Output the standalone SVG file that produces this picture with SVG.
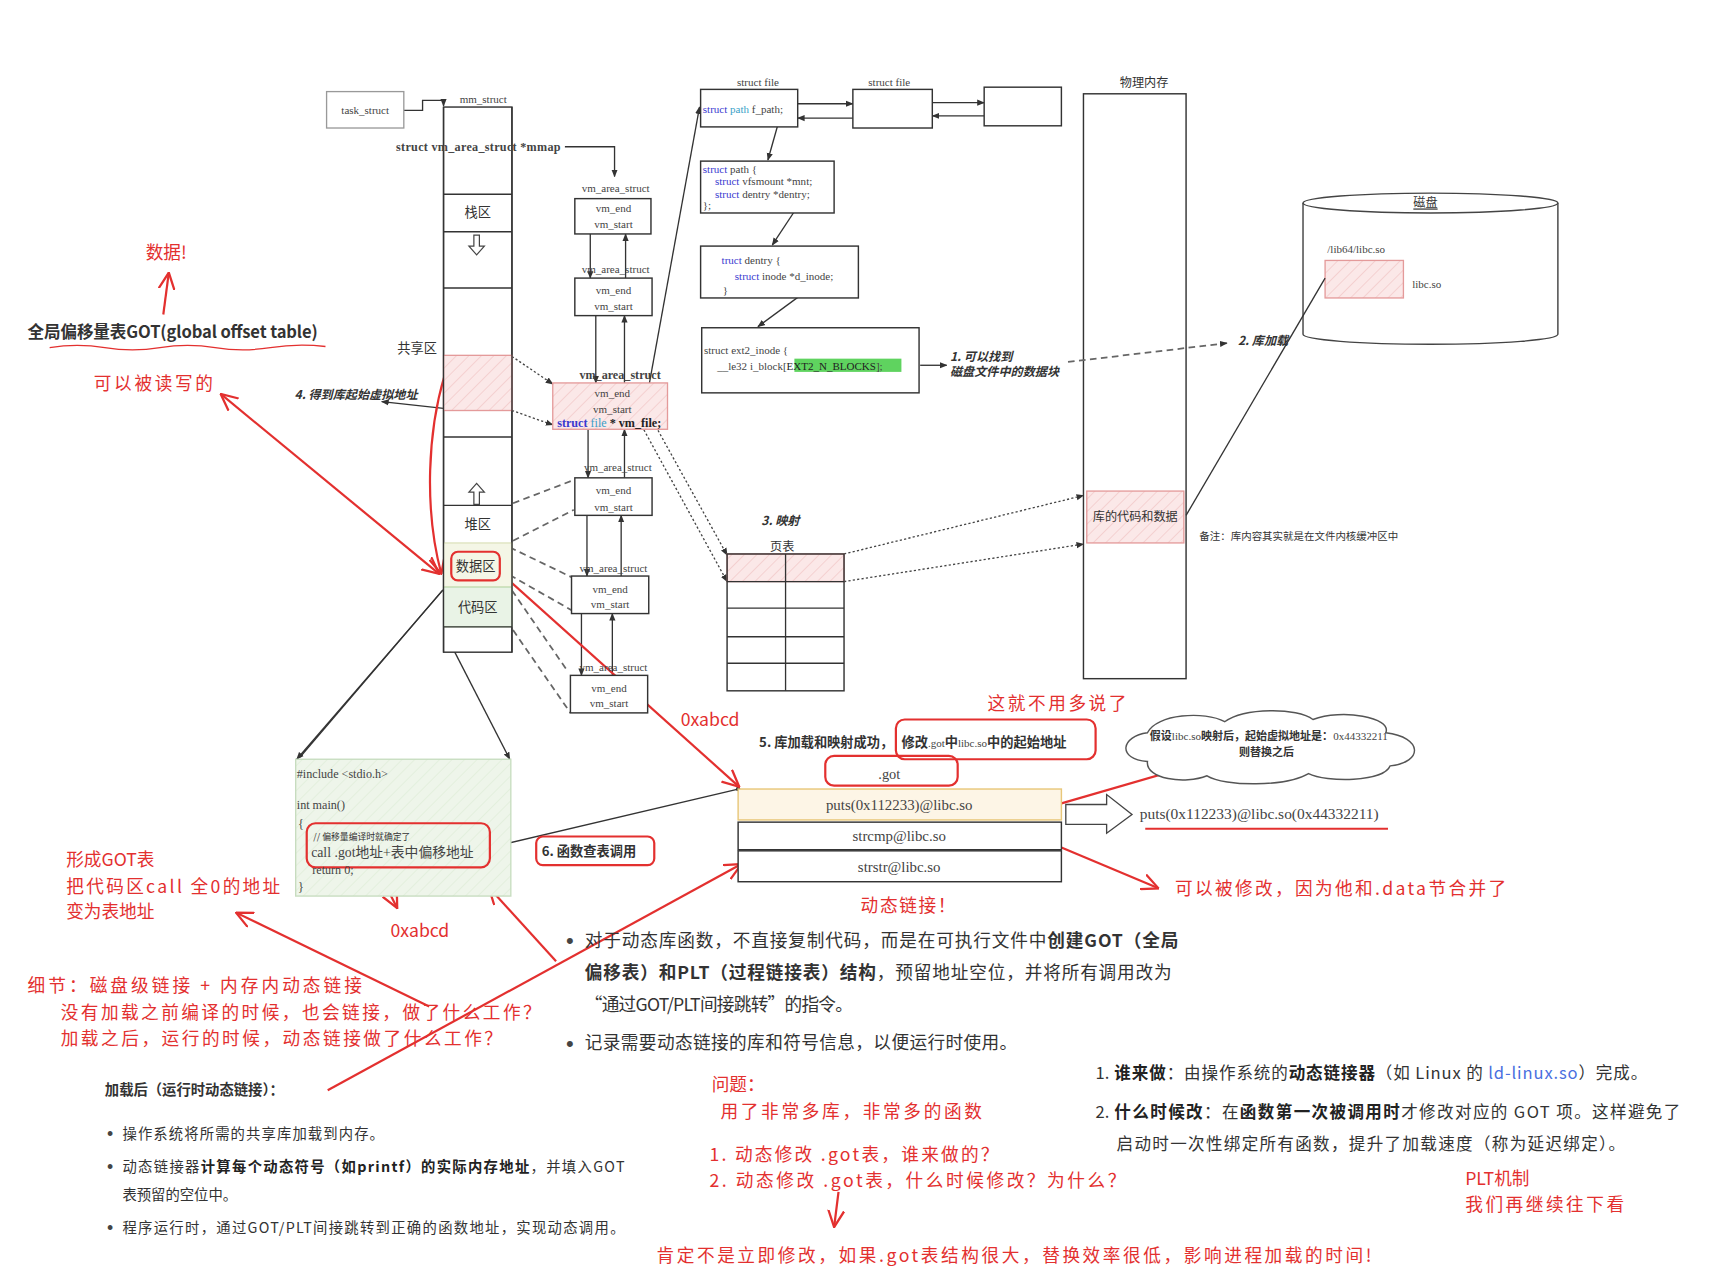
<svg xmlns="http://www.w3.org/2000/svg" width="1730" height="1279" viewBox="0 0 1730 1279">
<defs>
<style>
.bx{fill:#fff;stroke:#333;stroke-width:1.3}
.ln{stroke:#333;stroke-width:1.2;fill:none}
.dot{stroke:#444;stroke-width:1.2;fill:none;stroke-dasharray:2,2}
.dash{stroke:#666;stroke-width:1.6;fill:none;stroke-dasharray:6,4}
.rl{stroke:#e3302f;stroke-width:2;fill:none}
.rr{fill:none;stroke:#e3302f;stroke-width:2}
.pk{fill:url(#hatch);stroke:#e49a9a;stroke-width:1.2}
.sf{font-family:"Liberation Serif","Noto Sans CJK SC",serif;fill:#444}
.s10{font-size:10px}
.cj{font-family:"Noto Sans CJK SC","Noto Sans",sans-serif;fill:#333}
.bul{font-family:"Liberation Sans",sans-serif;fill:#444}
.hw{font-family:"Noto Sans CJK SC","Noto Sans",sans-serif;fill:#e3302f;font-size:16px}
.b{font-weight:bold}
.bi{font-weight:bold;font-style:italic}
.kw{fill:#3a3ad0}
.ty{fill:#3a9fc8}
.mid{text-anchor:middle}
</style>
<pattern id="hatch" width="8" height="8" patternUnits="userSpaceOnUse" patternTransform="rotate(45)">
<rect width="8" height="8" fill="#fbe8e8"/>
<line x1="0" y1="0" x2="0" y2="8" stroke="#f3cccc" stroke-width="1.5"/>
</pattern>
<pattern id="ghatch" width="8" height="8" patternUnits="userSpaceOnUse" patternTransform="rotate(45)">
<rect width="8" height="8" fill="#eef5ea"/>
<line x1="0" y1="0" x2="0" y2="8" stroke="#e2eedb" stroke-width="1.5"/>
</pattern>
<marker id="ab" viewBox="0 0 10 10" refX="9" refY="5" markerWidth="7" markerHeight="7" markerUnits="userSpaceOnUse" orient="auto-start-reverse"><path d="M0,1 L10,5 L0,9 z" fill="#333"/></marker>
<marker id="ar" viewBox="0 0 10 10" refX="9.5" refY="5" markerWidth="16" markerHeight="16" markerUnits="userSpaceOnUse" orient="auto-start-reverse"><path d="M0,0.5 L9.5,5 L0,9.5" fill="none" stroke="#e3302f" stroke-width="1.3"/></marker>
</defs>
<rect width="1730" height="1279" fill="#fff"/>
<g transform="scale(1.10332,1.10354)">

<!-- physical memory and disk drawn first so connectors pass over them -->
<g id="phys_mem">
<text class="cj mid" font-size="11" x="1037" y="79">物理内存</text>
<rect x="982" y="85" width="93" height="530" fill="none" stroke="#333" stroke-width="1.3"/>
<rect x="985" y="445" width="88" height="47" class="pk"/>
<text class="cj mid" font-size="11" x="1029" y="472">库的代码和数据</text>
<text class="cj" font-size="9.5" x="1087" y="489">备注：库内容其实就是在文件内核缓冲区中</text>
<text class="cj bi" font-size="11" x="1122" y="313" fill="#222">2. 库加载</text>
</g>
<g id="disk">
<path d="M1181,184 A115.5,9 0 0 1 1412,184 V303 A115.5,9 0 0 1 1181,303 Z" fill="none" stroke="#444" stroke-width="1.3"/>
<path d="M1181,184 A115.5,9 0 0 0 1412,184" fill="none" stroke="#444" stroke-width="1.3"/>
<text class="cj mid" font-size="11" x="1292" y="188" text-decoration="underline">磁盘</text>
<text class="sf s10" x="1203" y="229" fill="#666">/lib64/libc.so</text>
<rect x="1201" y="236" width="71" height="34" class="pk"/>
<text class="sf s10" x="1280" y="261" fill="#666">libc.so</text>
</g>

<!-- connectors -->
<g id="connectors">
<path class="ln" d="M366,100 H383 V91 H402 V96" marker-end="url(#ab)"/>
<path class="ln" d="M512,133 H557 V160" marker-end="url(#ab)"/>
<line class="ln" x1="535" y1="212" x2="535" y2="252" marker-end="url(#ab)"/>
<line class="ln" x1="567" y1="252" x2="567" y2="212" marker-end="url(#ab)"/>
<line class="ln" x1="540" y1="286" x2="540" y2="347" marker-end="url(#ab)"/>
<line class="ln" x1="566" y1="347" x2="566" y2="286" marker-end="url(#ab)"/>
<line class="ln" x1="533" y1="389" x2="533" y2="433" marker-end="url(#ab)"/>
<line class="ln" x1="566" y1="433" x2="566" y2="389" marker-end="url(#ab)"/>
<line class="ln" x1="532" y1="467" x2="532" y2="522" marker-end="url(#ab)"/>
<line class="ln" x1="563" y1="522" x2="563" y2="467" marker-end="url(#ab)"/>
<line class="ln" x1="527" y1="556" x2="527" y2="612" marker-end="url(#ab)"/>
<line class="ln" x1="555" y1="612" x2="555" y2="556" marker-end="url(#ab)"/>
<line class="dot" x1="464" y1="323" x2="501" y2="348" marker-end="url(#ab)"/>
<line class="dot" x1="464" y1="372" x2="501" y2="385" marker-end="url(#ab)"/>
<line class="dash" x1="465" y1="456" x2="520" y2="435"/>
<line class="dash" x1="465" y1="490" x2="520" y2="462"/>
<line class="dash" x1="462" y1="496" x2="518" y2="523"/>
<line class="dash" x1="462" y1="521" x2="518" y2="553"/>
<line class="dash" x1="464" y1="535" x2="515" y2="609"/>
<line class="dash" x1="465" y1="571" x2="517" y2="646"/>
<line class="ln" x1="583" y1="378" x2="634" y2="97" marker-end="url(#ab)"/>
<line class="ln" x1="723" y1="94" x2="773" y2="94" marker-end="url(#ab)"/>
<line class="ln" x1="773" y1="107" x2="723" y2="107" marker-end="url(#ab)"/>
<line class="ln" x1="845" y1="93" x2="892" y2="93" marker-end="url(#ab)"/>
<line class="ln" x1="892" y1="105" x2="845" y2="105" marker-end="url(#ab)"/>
<line class="ln" x1="707" y1="106" x2="696" y2="145" marker-end="url(#ab)"/>
<line class="ln" x1="727" y1="181" x2="700" y2="222" marker-end="url(#ab)"/>
<line class="ln" x1="740" y1="257" x2="687" y2="296" marker-end="url(#ab)"/>
<line class="ln" x1="834" y1="331" x2="858" y2="331" marker-end="url(#ab)"/>
<line class="dash" x1="968" y1="328" x2="1112" y2="311" marker-end="url(#ab)"/>
<line class="dot" x1="577" y1="355" x2="659" y2="503" marker-end="url(#ab)"/>
<line class="dot" x1="574" y1="372" x2="659" y2="527" marker-end="url(#ab)"/>
<line class="dot" x1="765" y1="502" x2="982" y2="449" marker-end="url(#ab)"/>
<line class="dot" x1="765" y1="527" x2="982" y2="493" marker-end="url(#ab)"/>
<line class="ln" x1="1075" y1="467" x2="1201" y2="252"/>
<line class="ln" x1="402" y1="370" x2="346" y2="364" marker-end="url(#ab)"/>
<line class="ln" x1="403" y1="533" x2="269" y2="688" marker-end="url(#ab)"/>
<line class="ln" x1="401" y1="535" x2="272" y2="686"/>
<line class="ln" x1="403" y1="573" x2="462" y2="688" marker-end="url(#ab)"/>
<line class="ln" x1="444" y1="768" x2="669" y2="715"/>
<circle cx="669" cy="715" r="2" fill="#333"/>
<!-- red annotations -->
<line class="rl" x1="398" y1="520" x2="200" y2="357" marker-start="url(#ar)" marker-end="url(#ar)"/>
<path class="rl" d="M403,340 C388,390 384,460 400,520" marker-end="url(#ar)"/>
<line class="rl" x1="148" y1="285" x2="153" y2="247" marker-end="url(#ar)"/>
<line class="rl" x1="458" y1="523" x2="670" y2="713" marker-end="url(#ar)"/>
<line class="rl" x1="336" y1="775" x2="360" y2="823" marker-end="url(#ar)"/>
<line class="rl" x1="389" y1="912" x2="214" y2="827" marker-end="url(#ar)"/>
<line class="rl" x1="297" y1="988" x2="672" y2="783" marker-end="url(#ar)"/>
<line class="rl" x1="504" y1="871" x2="443" y2="804" marker-end="url(#ar)"/>
<line class="rl" x1="955" y1="730" x2="1100" y2="688" marker-end="url(#ar)"/>
<line class="rl" x1="955" y1="765" x2="1050" y2="805" marker-end="url(#ar)"/>
<line class="rl" x1="760" y1="1080" x2="756" y2="1112" marker-end="url(#ar)"/>
<path d="M45,315 Q70,311 95,315 T145,315 T195,315 T245,315 T295,314" stroke="#e3302f" stroke-width="1.2" fill="none"/>
<line x1="1038" y1="751" x2="1258" y2="751" stroke="#e3302f" stroke-width="2"/>
</g>

<!-- task_struct -->
<g id="task_struct">
<rect x="296" y="83" width="70" height="33" fill="#fff" stroke="#999" stroke-width="1.2"/>
<text class="sf s10 mid" x="331" y="103">task_struct</text>
</g>

<!-- mm_struct column -->
<g id="mm_struct">
<text class="sf s10 mid" x="438" y="93">mm_struct</text>
<rect x="402" y="97" width="62" height="494" class="bx"/>
<rect x="402" y="322" width="62" height="50" class="pk"/>
<rect x="402" y="492" width="62" height="40" fill="#f4f6e6" stroke="#d8dfb4" stroke-width="1"/>
<rect x="402" y="532" width="62" height="36" fill="#e9f3e6" stroke="#b9d8ad" stroke-width="1"/>
<g class="ln">
<line x1="402" y1="176" x2="464" y2="176"/>
<line x1="402" y1="210" x2="464" y2="210"/>
<line x1="402" y1="261" x2="464" y2="261"/>
<line x1="402" y1="396" x2="464" y2="396"/>
<line x1="402" y1="458" x2="464" y2="458"/>
<line x1="402" y1="568" x2="464" y2="568"/>
<line x1="402" y1="97" x2="402" y2="591"/>
<line x1="464" y1="97" x2="464" y2="591"/>
</g>
<text class="sf b" font-size="11" x="359" y="137" textLength="149">struct vm_area_struct *mmap</text>
<text class="cj mid" font-size="12" x="433" y="197">栈区</text>
<path d="M429.5,213 H434.5 V223 H439 L432,231 L425,223 H429.5 Z" fill="#fff" stroke="#444" stroke-width="1.1"/>
<text class="cj" font-size="12" x="360" y="320">共享区</text>
<path d="M429.5,457 H434.5 V446 H439 L432,438 L425,446 H429.5 Z" fill="#fff" stroke="#444" stroke-width="1.1"/>
<text class="cj mid" font-size="12" x="433" y="479">堆区</text>
<rect x="409" y="500" width="44" height="26" rx="6" class="rr"/>
<text class="cj mid" font-size="12" x="431" y="517">数据区</text>
<text class="cj mid" font-size="12" x="433" y="555">代码区</text>
<text class="cj bi" font-size="11" x="267" y="362" fill="#222">4. 得到库起始虚拟地址</text>
</g>

<!-- vm_area_struct list -->
<g id="vma1">
<text class="sf s10 mid" x="558" y="174">vm_area_struct</text>
<rect x="521" y="180" width="69" height="32" class="bx"/>
<text class="sf s10 mid" x="556" y="192">vm_end</text>
<text class="sf s10 mid" x="556" y="207">vm_start</text>
</g>
<g id="vma2">
<text class="sf s10 mid" x="558" y="247">vm_area_struct</text>
<rect x="521" y="252" width="70" height="34" class="bx"/>
<text class="sf s10 mid" x="556" y="266">vm_end</text>
<text class="sf s10 mid" x="556" y="281">vm_start</text>
</g>
<g id="vma3">
<text class="sf b mid" font-size="11" x="562" y="343" fill="#333">vm_area_struct</text>
<rect x="501" y="347" width="104" height="42" class="pk"/>
<text class="sf s10 mid" x="555" y="360">vm_end</text>
<text class="sf s10 mid" x="555" y="374">vm_start</text>
<text class="sf b" font-size="11" x="505" y="387"><tspan class="kw">struct</tspan> <tspan class="ty" font-weight="normal">file</tspan><tspan fill="#222"> * vm_file;</tspan></text>
</g>
<g id="vma4">
<text class="sf s10 mid" x="560" y="427">vm_area_struct</text>
<rect x="521" y="433" width="70" height="34" class="bx"/>
<text class="sf s10 mid" x="556" y="448">vm_end</text>
<text class="sf s10 mid" x="556" y="463">vm_start</text>
</g>
<g id="vma5">
<text class="sf s10 mid" x="556" y="518">vm_area_struct</text>
<rect x="518" y="522" width="70" height="34" class="bx"/>
<text class="sf s10 mid" x="553" y="537">vm_end</text>
<text class="sf s10 mid" x="553" y="551">vm_start</text>
</g>
<g id="vma6">
<text class="sf s10 mid" x="556" y="608">vm_area_struct</text>
<rect x="517" y="612" width="70" height="34" class="bx"/>
<text class="sf s10 mid" x="552" y="627">vm_end</text>
<text class="sf s10 mid" x="552" y="641">vm_start</text>
</g>

<!-- struct file chain -->
<g id="file1">
<text class="sf s10 mid" x="687" y="78">struct file</text>
<rect x="635" y="81" width="88" height="34" class="bx"/>
<text class="sf s10" x="637" y="102"><tspan class="kw">struct</tspan> <tspan class="ty">path</tspan> f_path;</text>
</g>
<g id="file2">
<text class="sf s10 mid" x="806" y="78">struct file</text>
<rect x="773" y="81" width="72" height="35" class="bx"/>
</g>
<g id="file3">
<rect x="892" y="79" width="70" height="35" class="bx"/>
</g>
<g id="path">
<rect x="635" y="146" width="121" height="47" class="bx"/>
<text class="sf s10" x="637" y="157"><tspan class="kw">struct</tspan> path {</text>
<text class="sf s10" x="648" y="168"><tspan class="kw">struct</tspan> vfsmount *mnt;</text>
<text class="sf s10" x="648" y="179"><tspan class="kw">struct</tspan> dentry *dentry;</text>
<text class="sf s10" x="637" y="189">};</text>
</g>
<g id="dentry">
<rect x="635" y="223" width="143" height="47" class="bx"/>
<text class="sf s10" x="654" y="239"><tspan class="kw">truct</tspan> dentry {</text>
<text class="sf s10" x="666" y="254"><tspan class="kw">struct</tspan> inode *d_inode;</text>
<text class="sf s10" x="655" y="266">}</text>
</g>
<g id="ext2_inode">
<rect x="636" y="297" width="197" height="59" class="bx"/>
<text class="sf s10" x="638" y="321">struct ext2_inode {</text>
<rect x="720" y="325" width="97" height="12" fill="#5fd35f"/>
<text class="sf s10" x="650" y="335">__le32  i_block[<tspan fill="#222">EXT2_N_BLOCKS</tspan>];</text>
<text class="cj bi" font-size="11" x="861" y="327" fill="#222">1. 可以找到</text>
<text class="cj bi" font-size="11" x="861" y="341" fill="#222">磁盘文件中的数据块</text>
</g>

<!-- page table -->
<g id="page_table">
<text class="cj bi" font-size="11" x="690" y="476" fill="#222">3. 映射</text>
<text class="cj mid" font-size="11" x="709" y="499">页表</text>
<rect x="659" y="502" width="106" height="25" class="pk"/>
<rect x="659" y="502" width="106" height="124" fill="none" stroke="#333" stroke-width="1.3"/>
<g class="ln">
<line x1="712" y1="502" x2="712" y2="626"/>
<line x1="659" y1="527" x2="765" y2="527"/>
<line x1="659" y1="551" x2="765" y2="551"/>
<line x1="659" y1="577" x2="765" y2="577"/>
<line x1="659" y1="601" x2="765" y2="601"/>
</g>
</g>

<!-- code -->
<g id="code">
<rect x="268" y="688" width="195" height="124" fill="url(#ghatch)" stroke="#c6dcbe" stroke-width="1.2"/>
<text class="sf" font-size="11" x="269" y="705">#include &lt;stdio.h&gt;</text>
<text class="sf" font-size="11" x="269" y="733">int main()</text>
<text class="sf" font-size="11" x="270" y="750">{</text>
<rect x="278" y="746" width="166" height="40" rx="8" class="rr"/>
<text class="cj" font-size="8" x="284" y="761">// 偏移量编译时就确定了</text>
<text class="sf" font-size="12.5" x="282" y="777" fill="#333">call .got地址+表中偏移地址</text>
<text class="sf" font-size="11" x="283" y="792">return 0;</text>
<text class="sf" font-size="11" x="270" y="807">}</text>
</g>
<g id="lookup">
<rect x="486" y="758" width="107" height="26" rx="6" class="rr"/>
<text class="cj b" font-size="12" x="491" y="776" fill="#222">6. 函数查表调用</text>
</g>

<!-- got table -->
<g id="got">
<text class="cj b" font-size="12" x="688" y="677" fill="#222">5. 库加载和映射成功，</text>
<rect x="812" y="652" width="181" height="36" rx="8" class="rr"/>
<text class="cj b" font-size="12" x="817" y="677" fill="#222">修改<tspan class="sf" font-weight="normal" font-size="10">.got</tspan>中<tspan class="sf" font-weight="normal" font-size="10">libc.so</tspan>中的起始地址</text>
<rect x="748" y="685" width="120" height="27" rx="8" class="rr"/>
<text class="sf mid" font-size="13" x="806" y="706">.got</text>
<rect x="669" y="715" width="293" height="28" fill="#fdf5e6" stroke="#e8c77a" stroke-width="1.3"/>
<rect x="669" y="745" width="293" height="25" class="bx"/>
<rect x="669" y="771" width="293" height="28" class="bx"/>
<text class="sf mid" font-size="13.5" x="815" y="734">puts(0x112233)@libc.so</text>
<text class="sf mid" font-size="13.5" x="815" y="762">strcmp@libc.so</text>
<text class="sf mid" font-size="13.5" x="815" y="790">strstr@libc.so</text>
<path d="M966,729 H1003 V720 L1026,738 L1003,755 V747 H966 Z" fill="#fff" stroke="#444" stroke-width="1.2"/>
<text class="sf" font-size="14" x="1033" y="742">puts(0x112233)@libc.so(0x44332211)</text>
</g>
<g id="cloud">
<path d="M1040,690 C1012,688 1016,667 1040,664 C1048,647 1092,644 1110,654 C1128,641 1176,641 1190,652 C1216,642 1262,650 1256,664 C1290,668 1290,691 1260,694 C1254,709 1202,709 1186,701 C1166,713 1110,713 1094,703 C1074,711 1038,706 1040,690 Z" fill="#fff" stroke="#555" stroke-width="1.3"/>
<text class="cj b mid" font-size="10" x="1150" y="671" fill="#222">假设<tspan class="sf" font-weight="normal">libc.so</tspan>映射后，起始虚拟地址是：<tspan class="sf" font-weight="normal">0x44332211</tspan></text>
<text class="cj b mid" font-size="10" x="1148" y="685" fill="#222">则替换之后</text>
</g>

<!-- headings and notes -->
<g id="notes_left">
<text class="cj b" font-size="15" x="25" y="306" fill="#333" textLength="263">全局偏移量表GOT(global offset table)</text>
<text class="hw" font-size="17" x="132" y="235">数据!</text>
<text class="hw" font-size="17" x="85" y="353" textLength="108">可以被读写的</text>
<text class="hw" x="60" y="785">形成GOT表</text>
<text class="hw" x="60" y="809" textLength="194">把代码区call 全0的地址</text>
<text class="hw" x="60" y="832">变为表地址</text>
<text class="hw" x="354" y="849">0xabcd</text>
<text class="hw" x="617" y="658">0xabcd</text>
<text class="hw" x="25" y="899" textLength="303">细节：磁盘级链接 + 内存内动态链接</text>
<text class="hw" x="55" y="923" textLength="435">没有加载之前编译的时候，也会链接，做了什么工作？</text>
<text class="hw" x="55" y="947" textLength="400">加载之后，运行的时候，动态链接做了什么工作？</text>
<text class="hw" x="895" y="643" textLength="126">这就不用多说了</text>
<text class="hw" x="780" y="826" textLength="86">动态链接！</text>
<text class="hw" x="1065" y="811" textLength="300">可以被修改，因为他和.data节合并了</text>
</g>
<g id="text_block">
<text class="bul" font-size="20" x="513" y="859">•</text>
<text class="cj" font-size="16" x="530" y="858" textLength="538">对于动态库函数，不直接复制代码，而是在可执行文件中<tspan class="b">创建GOT（全局</tspan></text>
<text class="cj" font-size="16" x="530" y="887" textLength="532"><tspan class="b">偏移表）和PLT（过程链接表）结构</tspan>，预留地址空位，并将所有调用改为</text>
<text class="cj" font-size="16" x="530" y="916" textLength="243">“通过GOT/PLT间接跳转”的指令。</text>
<text class="bul" font-size="20" x="513" y="952">•</text>
<text class="cj" font-size="16" x="530" y="951" textLength="392">记录需要动态链接的库和符号信息，以便运行时使用。</text>
<text class="cj b" font-size="13" x="95" y="992" fill="#222">加载后（运行时动态链接）：</text>
<text class="bul" font-size="16" x="97" y="1033">•</text>
<text class="cj" font-size="13" x="111" y="1032" textLength="237">操作系统将所需的共享库加载到内存。</text>
<text class="bul" font-size="16" x="97" y="1063">•</text>
<text class="cj" font-size="13" x="111" y="1062" textLength="455">动态链接器<tspan class="b" fill="#222">计算每个动态符号（如printf）的实际内存地址</tspan>，并填入GOT</text>
<text class="cj" font-size="13" x="111" y="1087">表预留的空位中。</text>
<text class="bul" font-size="16" x="97" y="1118">•</text>
<text class="cj" font-size="13" x="111" y="1117" textLength="455">程序运行时，通过GOT/PLT间接跳转到正确的函数地址，实现动态调用。</text>
</g>
<g id="notes_bottom">
<text class="hw" x="645" y="989">问题：</text>
<text class="hw" x="653" y="1013" textLength="237">用了非常多库，非常多的函数</text>
<text class="hw" x="643" y="1052" textLength="262">1. 动态修改 .got表，谁来做的？</text>
<text class="hw" x="643" y="1076" textLength="377">2. 动态修改 .got表，什么时候修改？为什么？</text>
<text class="hw" x="595" y="1144" textLength="648">肯定不是立即修改，如果.got表结构很大，替换效率很低，影响进程加载的时间!</text>
<text class="hw" x="1328" y="1074">PLT机制</text>
<text class="hw" x="1328" y="1097" textLength="144">我们再继续往下看</text>
</g>
<g id="text_right">
<text class="cj" font-size="15" x="993" y="978" fill="#444">1. </text>
<text class="cj" font-size="15" x="1010" y="978" textLength="483"><tspan class="b" fill="#222">谁来做</tspan>：由操作系统的<tspan class="b" fill="#222">动态链接器</tspan>（如 Linux 的 <tspan fill="#4a6fe0">ld-linux.so</tspan>）完成。</text>
<text class="cj" font-size="15" x="993" y="1013" fill="#444">2. </text>
<text class="cj" font-size="15" x="1010" y="1013" textLength="513"><tspan class="b" fill="#222">什么时候改</tspan>：在<tspan class="b" fill="#222">函数第一次被调用时</tspan>才修改对应的 GOT 项。这样避免了</text>
<text class="cj" font-size="15" x="1012" y="1042" textLength="461">启动时一次性绑定所有函数，提升了加载速度（称为延迟绑定）。</text>
</g>

</g>
</svg>
